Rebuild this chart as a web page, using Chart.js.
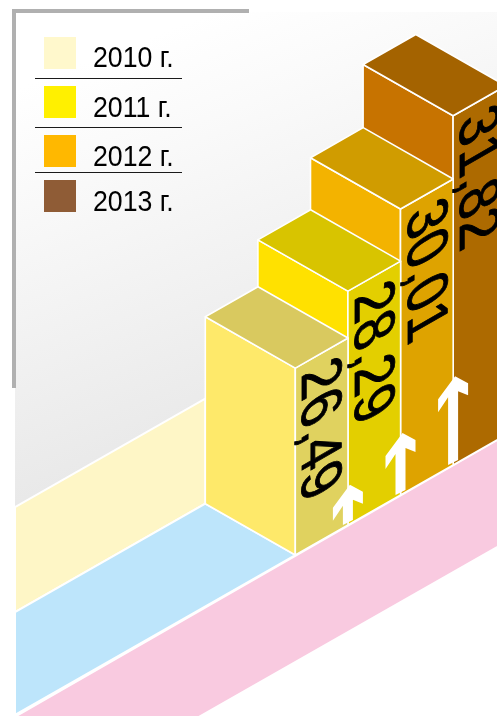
<!DOCTYPE html>
<html lang="ru">
<head>
<meta charset="utf-8">
<style>html,body{margin:0;padding:0;background:#fff}canvas{display:block}</style>
<script src="https://cdn.jsdelivr.net/npm/chart.js@4"></script>
</head>
<body>
<canvas id="c" width="497" height="716"></canvas>
<script>
const years = ['2010 г.', '2011 г.', '2012 г.', '2013 г.'];
const values = [26.49, 28.29, 30.01, 31.82];
const legendColors = ['#FFF8CC', '#FFF000', '#FFB800', '#8F5C36'];
const leftFaces = ['#FEE96A', '#FFE100', '#F3B300', '#C77300'];
const topFaces = ['#D9C95F', '#D8C400', '#D09C00', '#A46300'];
const rightFaces = ['#E0D25F', '#E3CF00', '#DEA300', '#AD6A00'];

const SLOPE = 0.57, DEPTH = 90, WIDTH = 52.7, FONT = '"Liberation Sans", Arial, sans-serif';

// The picture's heights are not proportional to the values: it follows a power curve.
class PowerScale extends Chart.LinearScale {
  static id = 'power';
  getPixelForValue(v) { return this.getPixelForDecimal(Math.pow(v / this.max, 3.41)); }
  getValueForPixel(p) { return this.max * Math.pow(this.getDecimalForPixel(p), 1 / 3.41); }
}
Chart.register(PowerScale);

function poly(ctx, pts, fill, stroke, lw) {
  ctx.beginPath();
  pts.forEach((p, i) => i ? ctx.lineTo(p[0], p[1]) : ctx.moveTo(p[0], p[1]));
  ctx.closePath();
  if (fill) { ctx.fillStyle = fill; ctx.fill(); }
  if (stroke) { ctx.strokeStyle = stroke; ctx.lineWidth = lw; ctx.lineJoin = 'round'; ctx.stroke(); }
}

const isoPlugin = {
  id: 'iso',
  beforeDatasetsDraw(chart) {
    const ctx = chart.ctx, bars = chart.getDatasetMeta(0).data;
    const x0 = bars[0].x, y0 = bars[0].base;
    const line = x => y0 - SLOPE * (x - x0);
    const W = chart.width, H = chart.height;
    // backdrop
    const g = ctx.createLinearGradient(90, 60, 230, 420);
    g.addColorStop(0, '#ffffff'); g.addColorStop(0.25, '#fafafa'); g.addColorStop(1, '#e9e9e9');
    poly(ctx, [[15, 12], [W, 12], [W, 420], [15, 507]], g);
    const xb = x0 - DEPTH, yb = y0 - DEPTH * SLOPE;
    poly(ctx, [[15, yb + SLOPE * (xb - 15) - 105], [xb, yb - 105], [xb, yb], [15, yb + SLOPE * (xb - 15)]], '#FEF6C6', '#fff', 2);
    poly(ctx, [[15, yb + SLOPE * (xb - 15)], [xb, yb], [x0, y0], [15, line(15)]], '#BDE5FB', '#fff', 2);
    poly(ctx, [[15, line(15) + 2], [W + 4, line(W + 4)], [W + 4, line(W + 4) + 107], [15, line(15) + 107]], '#F9CAE0', '#fff', 2);
    ctx.save();
    ctx.fillStyle = '#fff'; ctx.fillRect(0, 0, 15, H);
    ctx.fillStyle = '#B0B0B0';
    ctx.fillRect(12, 9, 237, 4); ctx.fillRect(12, 9, 4, 379);
    ctx.restore();
    // boxes, back to front
    for (let i = bars.length - 1; i >= 0; i--) {
      const x = bars[i].x, b = line(x), t = b - (bars[i].base - bars[i].y);
      const dy = DEPTH * SLOPE, ry = WIDTH * SLOPE;
      poly(ctx, [[x, t], [x - DEPTH, t - dy], [x - DEPTH, b - dy], [x, b]], leftFaces[i], '#fff', 1.6);
      poly(ctx, [[x, t], [x + WIDTH, t - ry], [x + WIDTH, b - ry], [x, b]], rightFaces[i], '#fff', 1.6);
      poly(ctx, [[x, t], [x - DEPTH, t - dy], [x - DEPTH + WIDTH, t - dy - ry], [x + WIDTH, t - ry]], topFaces[i], '#fff', 1.6);
    }
    // arrows at the steps between years
    for (let i = 1; i < bars.length; i++) {
      const x = bars[i].x, b = line(x), h = 0.42 * (bars[i].base - bars[i].y) - 58, t = b - h;
      poly(ctx, [[x + 2, t], [x + 15, t + 7], [x + 15, t + 19], [x + 5, t + 15], [x + 5, b - 5], [x - 5, b],
        [x - 5, t + 21], [x - 15, t + 36], [x - 15, t + 23]], '#fff');
    }
    // value labels lying on the right faces
    bars.forEach((bar, i) => {
      const x = bar.x, t = line(x) - (bar.base - bar.y);
      ctx.save();
      ctx.transform(0, 1, -0.866, 0.5, x + 7, t + 6);
      ctx.scale(0.8, 1);
      ctx.font = '66px ' + FONT;
      ctx.fillStyle = '#000';
      ctx.strokeStyle = '#000';
      ctx.lineWidth = 1;
      ctx.textBaseline = 'alphabetic';
      ctx.textAlign = 'left';
      const s = values[i].toFixed(2).replace('.', ',');
      ctx.fillText(s, 0, 0);
      ctx.strokeText(s, 0, 0);
      ctx.restore();
    });
    // legend
    const swatchTop = [37, 86, 135, 180], baselines = [67, 117, 166, 211], rules = [78, 127.5, 172.5];
    years.forEach((y, i) => {
      ctx.fillStyle = legendColors[i];
      ctx.fillRect(44, swatchTop[i], 32, 32);
      ctx.save();
      ctx.translate(93, baselines[i]);
      ctx.scale(0.89, 1);
      ctx.font = '30px ' + FONT;
      ctx.fillStyle = '#000';
      ctx.textBaseline = 'alphabetic';
      ctx.fillText(y, 0, 0);
      ctx.restore();
    });
    ctx.fillStyle = '#1a1a1a';
    rules.forEach(r => ctx.fillRect(35, Math.round(r - 0.5), 147, 1));
  }
};

new Chart(document.getElementById('c'), {
  type: 'bar',
  data: { labels: years, datasets: [{ label: 'values', data: values, backgroundColor: 'transparent', borderWidth: 0 }] },
  options: {
    responsive: false,
    animation: false,
    layout: { padding: { left: 269, right: 17.6, top: 23, bottom: 161 } },
    plugins: { legend: { display: false }, tooltip: { enabled: false } },
    scales: {
      x: { display: false },
      y: { type: 'power', min: 0, max: 36, display: false }
    }
  },
  plugins: [isoPlugin]
});
</script>
</body>
</html>
